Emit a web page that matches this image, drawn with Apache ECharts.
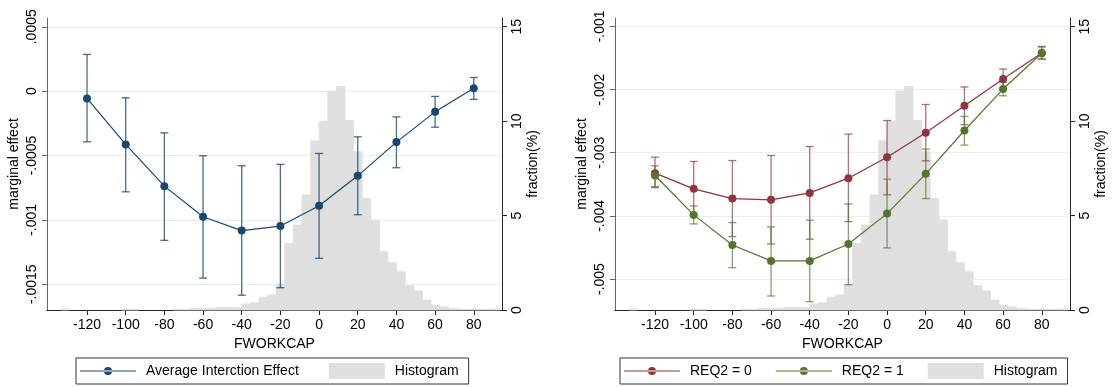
<!DOCTYPE html>
<html>
<head>
<meta charset="utf-8">
<script src="https://cdn.jsdelivr.net/npm/echarts@6/dist/echarts.min.js"></script>
<style>
  html, body { margin: 0; padding: 0; background: #fff; }
  #chart { width: 1120px; height: 387px; }
</style>
</head>
<body>
<div id="chart"></div>
<script>
// x positions of the estimates
const fworkcap = [-120, -100, -80, -60, -40, -20, 0, 20, 40, 60, 80]

// left panel: average interaction effect with CI
const aieMean = [-0.000057, -0.000414, -0.000738, -0.000976, -0.001083, -0.001048, -0.000891, -0.000658, -0.000396, -0.000161, 0.000023]
const aieLow = [-0.000394, -0.000782, -0.001159, -0.001452, -0.001585, -0.001527, -0.001299, -0.00096, -0.000595, -0.00028, -0.000064]
const aieHigh = [0.000285, -0.000052, -0.000324, -0.000502, -0.00058, -0.000569, -0.000484, -0.000355, -0.0002, -0.000041, 0.000106]

// right panel: REQ2 = 0 / REQ2 = 1
const req0Mean = [-0.003323, -0.003572, -0.003726, -0.003746, -0.003636, -0.003403, -0.003073, -0.002683, -0.002257, -0.001834, -0.001422]
const req0Low = [-0.003552, -0.003984, -0.004328, -0.004444, -0.004369, -0.00409, -0.003667, -0.003128, -0.002556, -0.001992, -0.001517]
const req0High = [-0.00307, -0.003139, -0.003124, -0.003044, -0.002902, -0.002705, -0.00249, -0.002236, -0.001959, -0.001675, -0.001326]
const req1Mean = [-0.003361, -0.003984, -0.00446, -0.004713, -0.004713, -0.004444, -0.003964, -0.003334, -0.002648, -0.001992, -0.001426]
const req1Low = [-0.003536, -0.004127, -0.004819, -0.005268, -0.005358, -0.005089, -0.004507, -0.003726, -0.00288, -0.002098, -0.001517]
const req1High = [-0.003208, -0.003842, -0.004106, -0.004174, -0.004068, -0.00381, -0.003418, -0.002943, -0.002426, -0.001887, -0.001317]

// histogram of FWORKCAP (fraction in %), equal-width bins
const histBinStart = -133.45
const histBinWidth = 4.45
const histFraction = [
  0.05, 0, 0, 0, 0, 0, 0, 0.04, 0.04, 0, 0, 0, 0, 0.04, 0.04, 0.08, 0.08, 0.09, 0.14, 0.14, 0.12,
  0.32, 0.39, 0.67, 0.8, 1.38, 3.53, 4.5, 6.1, 8.96, 10.0, 11.6, 11.83, 10.03, 8.39, 5.92, 4.77,
  3.09, 2.51, 2.03, 1.29, 1.02, 0.53, 0.26, 0.17, 0.09, 0.05, 0.03, 0.03, 0.04, 0.05
]

// tick labels
const xTicks = [-120, -100, -80, -60, -40, -20, 0, 20, 40, 60, 80]
const effTicksLeft = [-0.0015, -0.001, -0.0005, 0, 0.0005]
const effTicksRight = [-0.005, -0.004, -0.003, -0.002, -0.001]
const fracTicks = [0, 5, 10, 15]

const FONT = 'Liberation Sans, Arial, Helvetica, sans-serif'
const NAVY = '#1a476f'
const MAROON = '#90353b'
const FOREST = '#55752f'
const HISTGREY = '#dfdfdf'

const histData = histFraction.map((f, i) => [histBinStart + i * histBinWidth, histBinStart + (i + 1) * histBinWidth, f])
const pairs = (ys) => fworkcap.map((x, i) => [x, ys[i]])
const ciData = (lo, hi) => fworkcap.map((x, i) => [x, lo[i], hi[i]])

function stataNum(v) {
  if (v === 0) return '0'
  return String(+v.toFixed(6)).replace('0.', '.')
}

function renderHist(params, api) {
  if (!api.value(2)) return null
  const p0 = api.coord([api.value(0), 0])
  const p1 = api.coord([api.value(1), api.value(2)])
  return {
    type: 'rect',
    shape: { x: p0[0], y: p1[1], width: p1[0] - p0[0], height: p0[1] - p1[1] },
    style: { fill: HISTGREY, stroke: HISTGREY, lineWidth: 0.8 }
  }
}

function renderCI(params, api) {
  const x = api.value(0)
  const lo = api.coord([x, api.value(1)])
  const hi = api.coord([x, api.value(2)])
  const stroke = api.visual('color')
  const cap = 4
  const st = { stroke: stroke, lineWidth: 1.3 }
  return {
    type: 'group',
    children: [
      { type: 'line', shape: { x1: lo[0], y1: lo[1], x2: hi[0], y2: hi[1] }, style: st },
      { type: 'line', shape: { x1: lo[0] - cap, y1: lo[1], x2: lo[0] + cap, y2: lo[1] }, style: st },
      { type: 'line', shape: { x1: hi[0] - cap, y1: hi[1], x2: hi[0] + cap, y2: hi[1] }, style: st }
    ]
  }
}

function xAxisOf(grid) {
  return {
    gridIndex: grid,
    type: 'value',
    min: -140.7,
    max: 94.6,
    name: 'FWORKCAP',
    nameLocation: 'middle',
    nameGap: 26,
    nameTextStyle: { fontFamily: FONT, fontSize: 14, color: '#000' },
    axisLine: { show: true, onZero: false, lineStyle: { color: '#222', width: 1 } },
    axisTick: { show: true, length: 5, customValues: xTicks, lineStyle: { color: '#222' } },
    axisLabel: { customValues: xTicks, margin: 8, fontFamily: FONT, fontSize: 14, color: '#000' },
    splitLine: { show: false }
  }
}

function effAxisOf(grid, min, max, ticks) {
  return {
    gridIndex: grid,
    type: 'value',
    position: 'left',
    min: min,
    max: max,
    name: 'marginal effect',
    nameLocation: 'middle',
    nameGap: 26,
    nameMoveOverlap: false,
    nameTextStyle: { fontFamily: FONT, fontSize: 14, color: '#000' },
    axisLine: { show: true, onZero: false, lineStyle: { color: '#666', width: 1 } },
    axisTick: { show: true, length: 5, customValues: ticks, lineStyle: { color: '#666' } },
    axisLabel: { customValues: ticks, rotate: 90, margin: 8, fontFamily: FONT, fontSize: 14, color: '#000', formatter: stataNum },
    splitLine: { show: true, lineStyle: { color: '#e6eeef', width: 1 } }
  }
}

function fracAxisOf(grid) {
  return {
    gridIndex: grid,
    type: 'value',
    position: 'right',
    min: 0,
    max: 15.46,
    name: 'fraction(%)',
    nameLocation: 'middle',
    nameGap: 24,
    nameMoveOverlap: false,
    nameTextStyle: { fontFamily: FONT, fontSize: 14, color: '#000' },
    axisLine: { show: true, onZero: false, lineStyle: { color: '#222', width: 1 } },
    axisTick: { show: true, length: 5, customValues: fracTicks, lineStyle: { color: '#222' } },
    axisLabel: { customValues: fracTicks, rotate: 90, margin: 8, fontFamily: FONT, fontSize: 14, color: '#000' },
    splitLine: { show: false }
  }
}

// line + dot legend icon
const dotIcon = 'path://M0,7.4H56V8.6H0Z M32,8A4,4 0 1,0 24,8A4,4 0 1,0 32,8Z'

function legendOf(left, items, gap) {
  return {
    left: left,
    top: 358,
    orient: 'horizontal',
    itemWidth: 56,
    itemHeight: 16,
    itemGap: gap,
    padding: [5, 10, 5, 4],
    borderColor: '#333',
    borderWidth: 1,
    borderRadius: 0,
    selectedMode: false,
    textStyle: { fontFamily: FONT, fontSize: 14, color: '#000', padding: [0, 0, 0, 5] },
    data: items
  }
}

const chart = echarts.init(document.getElementById('chart'), null, { renderer: 'canvas' })

const option = {
  animation: false,
  backgroundColor: '#fff',
  grid: [
    { left: 47, top: 18, width: 455, height: 292 },
    { left: 615, top: 18, width: 455, height: 292 }
  ],
  xAxis: [xAxisOf(0), xAxisOf(1)],
  yAxis: [
    effAxisOf(0, -0.0017, 0.000568, effTicksLeft),
    fracAxisOf(0),
    effAxisOf(1, -0.00549, -0.000867, effTicksRight),
    fracAxisOf(1)
  ],
  legend: [
    legendOf(76, [
      { name: 'Average Interction Effect', icon: dotIcon },
      { name: 'Histogram', icon: 'rect', itemStyle: { color: HISTGREY } }
    ], 30),
    legendOf(620, [
      { name: 'REQ2 = 0', icon: dotIcon },
      { name: 'REQ2 = 1', icon: dotIcon },
      { name: 'Histogram', icon: 'rect', itemStyle: { color: HISTGREY } }
    ], 24)
  ],
  series: [
    // left panel
    { name: 'Histogram', type: 'custom', xAxisIndex: 0, yAxisIndex: 1, renderItem: renderHist,
      itemStyle: { color: HISTGREY }, encode: { x: [0, 1], y: 2 }, data: histData, z: 1, silent: true },
    { name: 'ci-aie', type: 'custom', xAxisIndex: 0, yAxisIndex: 0, renderItem: renderCI,
      itemStyle: { color: 'rgba(26,71,111,0.8)' }, encode: { x: 0, y: [1, 2] }, data: ciData(aieLow, aieHigh), z: 2 },
    { name: 'Average Interction Effect', type: 'line', xAxisIndex: 0, yAxisIndex: 0,
      data: pairs(aieMean), symbol: 'circle', symbolSize: 8, itemStyle: { color: NAVY },
      lineStyle: { color: NAVY, width: 1.2 }, z: 3 },

    // right panel
    { name: 'Histogram', type: 'custom', xAxisIndex: 1, yAxisIndex: 3, renderItem: renderHist,
      itemStyle: { color: HISTGREY }, encode: { x: [0, 1], y: 2 }, data: histData, z: 1, silent: true },
    { name: 'ci-req0', type: 'custom', xAxisIndex: 1, yAxisIndex: 2, renderItem: renderCI,
      itemStyle: { color: 'rgba(144,53,59,0.7)' }, encode: { x: 0, y: [1, 2] }, data: ciData(req0Low, req0High), z: 2 },
    { name: 'ci-req1', type: 'custom', xAxisIndex: 1, yAxisIndex: 2, renderItem: renderCI,
      itemStyle: { color: 'rgba(85,117,47,0.7)' }, encode: { x: 0, y: [1, 2] }, data: ciData(req1Low, req1High), z: 2 },
    { name: 'REQ2 = 0', type: 'line', xAxisIndex: 1, yAxisIndex: 2,
      data: pairs(req0Mean), symbol: 'circle', symbolSize: 8, itemStyle: { color: MAROON },
      lineStyle: { color: MAROON, width: 1.2 }, z: 3 },
    { name: 'REQ2 = 1', type: 'line', xAxisIndex: 1, yAxisIndex: 2,
      data: pairs(req1Mean), symbol: 'circle', symbolSize: 8, itemStyle: { color: FOREST },
      lineStyle: { color: FOREST, width: 1.2 }, z: 3 }
  ]
}

chart.setOption(option)
</script>
</body>
</html>
